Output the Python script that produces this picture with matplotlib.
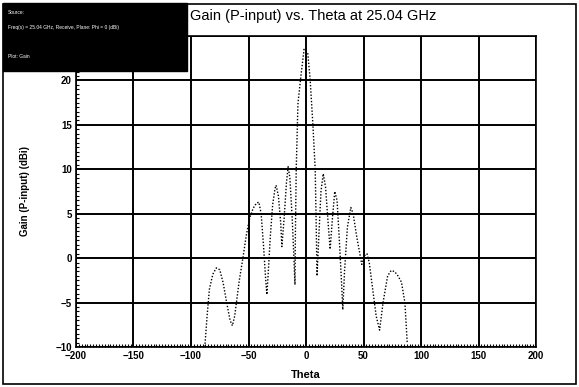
import matplotlib
matplotlib.use("Agg")
import matplotlib.pyplot as plt
from matplotlib.patches import Rectangle
from matplotlib.ticker import MultipleLocator

# --- data (theta in degrees, gain in dBi) ---
theta = [-88, -86, -84, -81, -78, -75, -72, -69, -66, -64, -62, -60, -58,
         -55, -52, -49, -46, -43, -41, -39, -37, -35, -34, -33, -31, -29,
         -27, -26, -24, -22, -21, -19, -17, -15.5, -14, -12, -10.5, -9.6,
         -9.2, -8.5, -7, -4.6, -1.7, 1.5, 3.5, 6, 8, 8.7, 9.6, 11, 13, 15,
         17, 19.5, 21, 23, 25, 27, 29, 31, 32, 33.5, 36, 39, 41, 44, 48.5,
         51, 53, 55, 58, 61, 64, 67, 71, 74, 77, 80, 83, 86, 88]
gain = [-10, -6.5, -3.5, -1.8, -1.1, -1.3, -2.8, -5, -7, -7.6, -6.5, -4.5,
        -2.5, -0.1, 2.5, 4.5, 5.6, 6.2, 6.3, 5.0, 1.5, -2.5, -4.1, -2.0,
        2.5, 6.0, 7.8, 8.2, 7.0, 4.0, 1.3, 4.5, 8.5, 10.3, 9.0, 4.5, 0.0,
        -3.0, 3.0, 10.0, 17.4, 20.3, 23.5, 23.1, 20.3, 15.0, 10.0, 5.0,
        -2.0, 2.0, 7.5, 9.5, 8.0, 3.5, 1.0, 4.5, 7.5, 6.5, 2.0, -3.0, -5.8,
        -1.5, 3.5, 5.7, 5.0, 2.5, -0.7, 0.3, 0.5, -0.5, -3.5, -6.5, -8.1,
        -5.0, -2.0, -1.4, -1.5, -2.0, -2.7, -5.0, -9.5]

x_ticks = [-200, -150, -100, -50, 0, 50, 100, 150, 200]
y_ticks = [-10, -5, 0, 5, 10, 15, 20, 25]

title = "Gain (P-input) vs. Theta at 25.04 GHz"
info_lines = ["Source:",
              "Freq(s) = 25.04 GHz, Receive, Plane: Phi = 0 (dBi)",
              "",
              "Plot: Gain"]

fam = ["Liberation Sans", "DejaVu Sans"]

fig = plt.figure(figsize=(5.79, 3.87), dpi=100)
ax = fig.add_axes([76 / 579, 1 - 347 / 387, 460 / 579, 311 / 387])

ax.plot(theta, gain, color="black", linestyle=(0, (1, 1.3)), linewidth=1.0,
        zorder=3)

ax.set_xlim(-200, 200)
ax.set_ylim(-10, 25)
ax.set_xticks(x_ticks)
ax.set_yticks(y_ticks)
ax.xaxis.set_minor_locator(MultipleLocator(2.5))
ax.yaxis.set_minor_locator(MultipleLocator(0.5))
ax.tick_params(which="major", length=0, pad=3)
ax.tick_params(which="minor", direction="in", length=2, width=0.8,
               color="black")
for lab in ax.get_xticklabels() + ax.get_yticklabels():
    lab.set_fontsize(7)
    lab.set_fontweight("bold")
    lab.set_family(fam)

ax.grid(True, which="major", color="black", linewidth=1.4)
for s in ax.spines.values():
    s.set_linewidth(1.2)
    s.set_color("black")

ax.set_xlabel("Theta", fontsize=8, fontweight="bold", family=fam,
              labelpad=6)
ax.set_ylabel("Gain (P-input) (dBi)", fontsize=7, fontweight="bold",
              family=fam, labelpad=18)

# title on the white strip to the right of the info box
fig.text(190 / 579, 1 - 16 / 387, title, fontsize=10.5, family=fam,
         ha="left", va="center")

# outer frame of the whole picture
fig.add_artist(Rectangle((3 / 579, 3 / 387), 573 / 579, 380 / 387,
                         transform=fig.transFigure, fill=False,
                         edgecolor="black", linewidth=1.2, zorder=4))

# black info box in the top-left corner
fig.add_artist(Rectangle((3 / 579, 1 - 71 / 387), 184 / 579, 68 / 387,
                         transform=fig.transFigure, facecolor="black",
                         edgecolor="black", zorder=5))
for i, line in enumerate(info_lines):
    fig.text(8 / 579, 1 - (12 + i * 15) / 387, line, color="white",
             fontsize=3.5, family=fam, va="center", zorder=6)

plt.savefig("out.png", dpi=100)
